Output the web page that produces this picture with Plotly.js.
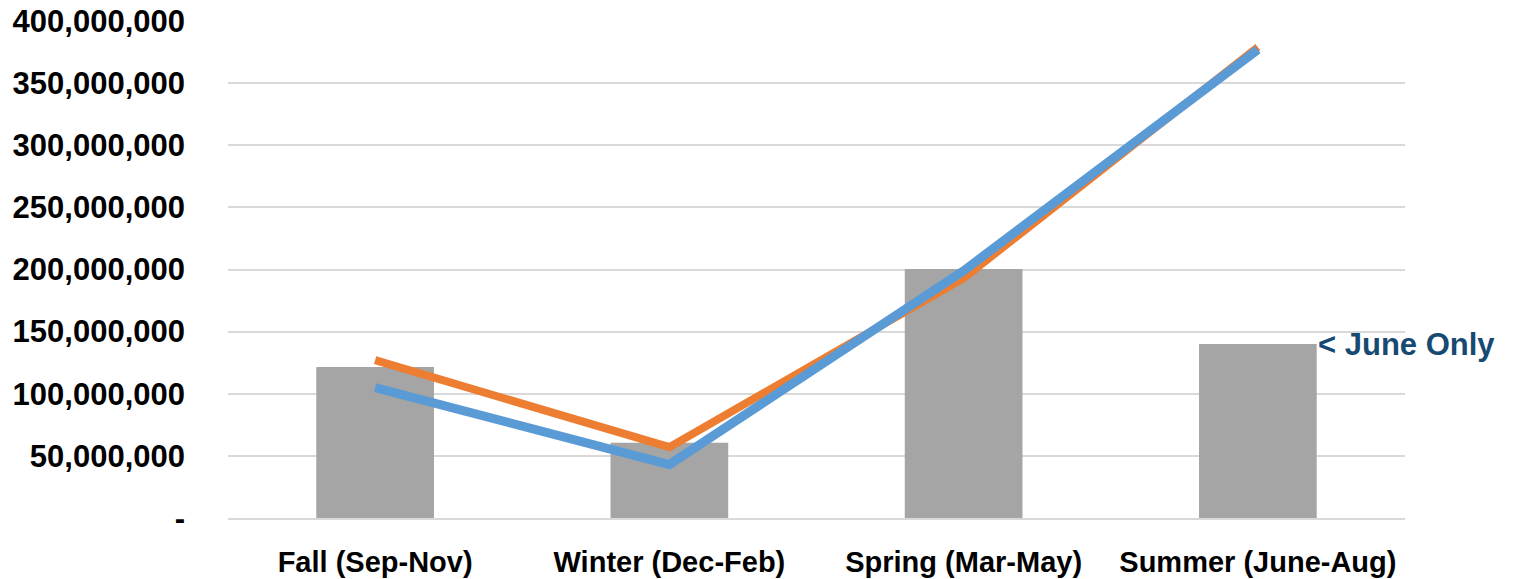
<!DOCTYPE html>
<html>
<head>
<meta charset="utf-8">
<script src="https://cdn.plot.ly/plotly-3.0.1.min.js"></script>
<style>html,body{margin:0;padding:0;background:#fff;}#chart{width:1515px;height:579px;}</style>
</head>
<body>
<div id="chart"></div>
<script>
const categories = ["Fall (Sep-Nov)", "Winter (Dec-Feb)", "Spring (Mar-May)", "Summer (June-Aug)"];
const barValues = [121500000, 60500000, 200500000, 140000000];
const orangeValues = [127000000, 57000000, 193000000, 379000000];
const blueValues = [105000000, 43000000, 199000000, 377000000];
const yTickVals = [0, 50000000, 100000000, 150000000, 200000000, 250000000, 300000000, 350000000, 400000000];
const yTickText = ["-", "50,000,000", "100,000,000", "150,000,000", "200,000,000", "250,000,000", "300,000,000", "350,000,000", "400,000,000"];
const noteText = "< June Only";

const traces = [
  {type: "bar", x: categories, y: barValues, marker: {color: "#a5a5a5"}, hoverinfo: "skip"},
  {type: "scatter", mode: "lines", x: categories, y: orangeValues, line: {color: "#ed7d31", width: 8}},
  {type: "scatter", mode: "lines", x: categories, y: blueValues, line: {color: "#5b9bd5", width: 9}}
];

const layout = {
  width: 1515, height: 579,
  margin: {l: 228, r: 110, t: 21, b: 61},
  paper_bgcolor: "#ffffff", plot_bgcolor: "#ffffff",
  showlegend: false,
  bargap: 0.6,
  font: {family: "Liberation Sans, Arial, sans-serif", color: "#000000"},
  xaxis: {
    type: "category",
    range: [-0.5, 3.5], autorange: false,
    showgrid: false,
    showline: true, linecolor: "#d9d9d9", linewidth: 2,
    ticks: "",
    ticklabelstandoff: 17,
    tickfont: {family: "Liberation Sans, Arial, sans-serif", size: 29, color: "#000000", weight: "bold"}
  },
  yaxis: {
    range: [0, 400000000], autorange: false,
    tickvals: yTickVals, ticktext: yTickText,
    showgrid: true, gridcolor: "#d9d9d9", gridwidth: 2,
    zeroline: false, showline: false,
    ticks: "",
    ticklabelstandoff: 42,
    tickfont: {family: "Liberation Sans, Arial, sans-serif", size: 31, color: "#000000", weight: "bold"}
  },
  annotations: [{
    x: categories[3], y: barValues[3], xref: "x", yref: "y",
    xanchor: "left", yanchor: "middle", xshift: 58, yshift: 0,
    text: noteText, showarrow: false,
    font: {family: "Liberation Sans, Arial, sans-serif", size: 31, color: "#174a73", weight: "bold"}
  }]
};

Plotly.newPlot("chart", traces, layout, {displayModeBar: false, staticPlot: true});
</script>
</body>
</html>
